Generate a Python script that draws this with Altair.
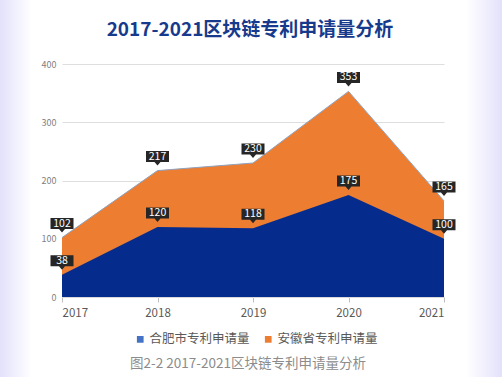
import altair as alt
import pandas as pd

years = [2017, 2018, 2019, 2020, 2021]
hefei = [38, 120, 118, 175, 100]
anhui = [102, 217, 230, 353, 165]
series_names = ["合肥市专利申请量", "安徽省专利申请量"]
title_text = "2017-2021区块链专利申请量分析"
caption_text = "图2-2  2017-2021区块链专利申请量分析"

NAVY = "#052c8c"
ORANGE = "#ED7D31"
LEG_BLUE = "#4472C4"
FONT = "Noto Sans CJK SC"

df = pd.DataFrame({"year": years, "hefei": hefei, "anhui": anhui})
labels = pd.DataFrame({"year": years * 2, "v": hefei + anhui})
legend_df = pd.DataFrame({"year": [years[0], years[0]], "v": [0, 0], "s": series_names})
one = pd.DataFrame({"a": [0]})

W, H = 382, 233

xenc = alt.X("year:Q", scale=alt.Scale(domain=[2017, 2021], nice=False, zero=False),
             axis=alt.Axis(values=years, format="d", title=None, grid=False,
                           labelFontSize=11.5, labelColor="#595959", labelFont=FONT,
                           domainColor="#d9d9d9", tickColor="#bfbfbf", tickSize=5,
                           labelPadding=5))
yscale = alt.Scale(domain=[0, 400], nice=False)
yaxis = alt.Axis(values=list(range(0, 401, 50)), title=None,
                 labelExpr="datum.value % 100 == 0 ? datum.label : ''",
                 labelFontSize=9, labelColor="#7f7f7f", labelFont=FONT,
                 gridColor="#dedede", domain=False, ticks=False, labelPadding=6)

grad_left = alt.Gradient(gradient="linear", x1=0, x2=1, y1=0, y2=0,
                         stops=[alt.GradientStop(offset=0, color="#e3e1fb"),
                                alt.GradientStop(offset=1, color="#ffffff")])
grad_right = alt.Gradient(gradient="linear", x1=0, x2=1, y1=0, y2=0,
                          stops=[alt.GradientStop(offset=0, color="#ffffff"),
                                 alt.GradientStop(offset=1, color="#e3e1fb")])
bg_left = alt.Chart(one).mark_rect(fill=grad_left).encode(
    x=alt.value(-62), x2=alt.value(-30), y=alt.value(-64), y2=alt.value(313))
bg_right = alt.Chart(one).mark_rect(fill=grad_right).encode(
    x=alt.value(W + 22), x2=alt.value(W + 58), y=alt.value(-64), y2=alt.value(313))

area_anhui = alt.Chart(df).mark_area(
    color=ORANGE, opacity=1, fillOpacity=1,
    line={"color": "#8fa3bf", "strokeWidth": 1}).encode(
    x=xenc, y=alt.Y("anhui:Q", scale=yscale, axis=yaxis))
area_hefei = alt.Chart(df).mark_area(color=NAVY, opacity=1, fillOpacity=1).encode(
    x=xenc, y=alt.Y("hefei:Q", scale=yscale))

legend_layer = alt.Chart(legend_df).mark_point(filled=True, opacity=0, size=1).encode(
    x=xenc, y=alt.Y("v:Q", scale=yscale),
    color=alt.Color("s:N", scale=alt.Scale(domain=series_names, range=[LEG_BLUE, ORANGE]),
                    legend=alt.Legend(title=None, orient="none", direction="horizontal",
                                      legendX=72, legendY=269, symbolType="square",
                                      symbolSize=45, symbolOpacity=1, labelFontSize=12.5,
                                      labelColor="#595959", labelFont=FONT,
                                      columnPadding=12, symbolStrokeWidth=0, labelOffset=3)))

box_path = "M-11.5,-19.5L11.5,-19.5L11.5,-8.5L3,-8.5L0,-5L-3,-8.5L-11.5,-8.5Z"
boxes = alt.Chart(labels).mark_point(shape=box_path, size=4, filled=True,
                                     color="#262626", opacity=1, strokeWidth=0).encode(
    x=xenc, y=alt.Y("v:Q", scale=yscale))
texts = alt.Chart(labels).mark_text(color="white", fontSize=10.5, font=FONT,
                                    yOffset=-14, baseline="middle").encode(
    x=xenc, y=alt.Y("v:Q", scale=yscale), text="v:Q")

title = alt.Chart(one).mark_text(text=title_text, fontSize=19, font=FONT, fontWeight="bold",
                                 color="#173a8c", baseline="middle").encode(
    x=alt.value(188), y=alt.value(-34))
caption = alt.Chart(one).mark_text(text=caption_text, fontSize=13.5, color="#8c8c8c",
                                   font=FONT, baseline="middle").encode(
    x=alt.value(186), y=alt.value(300))

chart = alt.layer(bg_left, bg_right, area_anhui, area_hefei, legend_layer, boxes, texts,
                  title, caption).properties(
    width=W, height=H,
    autosize=alt.AutoSizeParams(type="none"),
    padding={"left": 62, "top": 64, "right": 58, "bottom": 80},
    background="white",
).configure_view(stroke=None)

chart.save("out.html", embed_options={"renderer": "svg", "actions": False})
